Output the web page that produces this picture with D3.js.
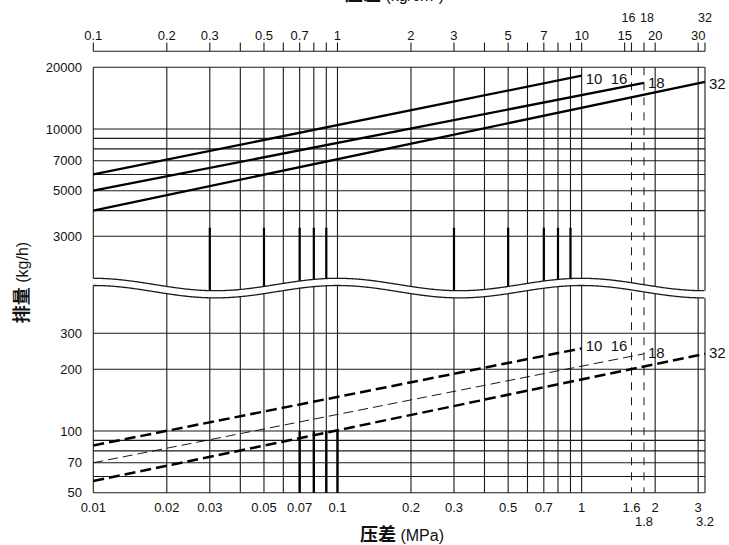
<!DOCTYPE html>
<html>
<head>
<meta charset="utf-8">
<script src="https://cdn.jsdelivr.net/npm/d3@7"></script>
<style>
  body { margin: 0; background: #fff; }
  svg { display: block; font-family: "Liberation Sans", Arial, sans-serif; }
</style>
</head>
<body>
<svg id="chart" width="729" height="545"></svg>
<script>
// ---- data ----
const gridMPa = [0.02, 0.03, 0.04, 0.05, 0.06, 0.07, 0.08, 0.09, 0.1,
  0.2, 0.3, 0.4, 0.5, 0.6, 0.7, 0.8, 0.9, 1, 2, 3];
const dashedMPa = [1.6, 1.8];
const bottomLabels = [0.01, 0.02, 0.03, 0.05, 0.07, 0.1, 0.2, 0.3, 0.5, 0.7, 1, 1.6, 2, 3];
const bottomLabels2 = [1.8, 3.2];

const topTicks = [0.1, 0.2, 0.3, 0.4, 0.5, 0.6, 0.7, 0.8, 0.9, 1,
  2, 3, 4, 5, 6, 7, 8, 9, 10, 15, 16, 18, 20, 30, 32];
const topLabels = [0.1, 0.2, 0.3, 0.5, 0.7, 1, 2, 3, 5, 7, 10, 15, 20, 30];
const topLabels2 = [16, 18, 32];

const upperGrid = [3000, 4000, 5000, 6000, 7000, 8000, 9000, 10000, 20000];
const upperLabels = [3000, 5000, 7000, 10000, 20000];
const lowerGrid = [50, 60, 70, 80, 90, 100, 200, 300];
const lowerLabels = [50, 70, 100, 200, 300];

// lines in the upper (solid) and lower (dashed) part: [MPa, kg/h]
const upper10 = [[0.01, 6000], [1, 18200]];
const upper18 = [[0.01, 5000], [1.8, 16800]];
const upper32 = [[0.01, 4000], [3.2, 17000]];
const lower10 = [[0.01, 85], [1, 253]];
const lower18 = [[0.01, 70], [1.8, 238]];
const lower32 = [[0.01, 57], [3.2, 238]];

// grid lines that print heavier in the original
const heavyUpper = [0.03, 0.05, 0.07, 0.08, 0.09, 0.3, 0.5, 0.7, 0.8, 0.9];
const heavyLower = [0.07, 0.08, 0.09, 0.1];

const svg = d3.select("#chart");

const x = d3.scaleLog().domain([0.01, 3.2]).range([93.3, 705]);
const xTop = d3.scaleLog().domain([0.1, 32]).range([93.3, 705]);
const yUp = d3.scaleLog().domain([3000, 20000]).range([236.2, 67.3]);
const yLow = d3.scaleLog().domain([50, 300]).range([492.7, 333.2]);

const ink = "#1a1a1a";
const x0 = x(0.01), x1 = x(3.2);
const yTop = yUp(20000), yBot = yLow(50);

// axis break (wavy band), one wave per decade
const decade = x(0.1) - x(0.01);
const waveTop = (px) => 284.5 - 6.2 * Math.cos((2 * Math.PI * (px - x0)) / decade);

// vertical grid
svg.append("g")
  .selectAll("line")
  .data([0.01, ...gridMPa, 3.2])
  .join("line")
  .attr("x1", (d) => x(d)).attr("x2", (d) => x(d))
  .attr("y1", yTop).attr("y2", yBot)
  .attr("stroke", ink).attr("stroke-width", 1.1);

svg.append("g")
  .selectAll("line")
  .data(dashedMPa)
  .join("line")
  .attr("x1", (d) => x(d)).attr("x2", (d) => x(d))
  .attr("y1", yTop).attr("y2", yBot)
  .attr("stroke", ink).attr("stroke-width", 1)
  .attr("stroke-dasharray", "8,7");

// horizontal grid
svg.append("g")
  .selectAll("line")
  .data(upperGrid)
  .join("line")
  .attr("x1", x0).attr("x2", x1)
  .attr("y1", (d) => yUp(d)).attr("y2", (d) => yUp(d))
  .attr("stroke", ink).attr("stroke-width", 1.1);

svg.append("g")
  .selectAll("line")
  .data(lowerGrid)
  .join("line")
  .attr("x1", x0).attr("x2", x1)
  .attr("y1", (d) => yLow(d)).attr("y2", (d) => yLow(d))
  .attr("stroke", ink).attr("stroke-width", 1.1);

// heavier segments
svg.append("g")
  .selectAll("line")
  .data(heavyUpper)
  .join("line")
  .attr("x1", (d) => x(d)).attr("x2", (d) => x(d))
  .attr("y1", yUp(3300)).attr("y2", (d) => waveTop(x(d)))
  .attr("stroke", "#000").attr("stroke-width", 2.2);

svg.append("g")
  .selectAll("line")
  .data(heavyLower)
  .join("line")
  .attr("x1", (d) => x(d)).attr("x2", (d) => x(d))
  .attr("y1", yLow(100)).attr("y2", yBot)
  .attr("stroke", "#000").attr("stroke-width", 2.4);

const wave = d3.range(x0 - 1, x1 + 1.5, 1).map((px) => {
  const t = waveTop(px);
  return [px, t, t + 7.2];
});
svg.append("path")
  .datum(wave)
  .attr("d", d3.area().x((d) => d[0]).y0((d) => d[1]).y1((d) => d[2]))
  .attr("fill", "#fff");
const waveIn = wave.filter((d) => d[0] >= x0 && d[0] <= x1);
[1, 2].forEach((k) => {
  svg.append("path")
    .datum(waveIn)
    .attr("d", d3.line().x((d) => d[0]).y((d) => d[k]))
    .attr("fill", "none").attr("stroke", ink).attr("stroke-width", 1.3);
});

// curves
const lineUp = d3.line().x((d) => x(d[0])).y((d) => yUp(d[1]));
const lineLow = d3.line().x((d) => x(d[0])).y((d) => yLow(d[1]));

[upper10, upper18, upper32].forEach((s) => {
  svg.append("path").datum(s).attr("d", lineUp)
    .attr("fill", "none").attr("stroke", "#000").attr("stroke-width", 2.3);
});
[lower10, lower32].forEach((s) => {
  svg.append("path").datum(s).attr("d", lineLow)
    .attr("fill", "none").attr("stroke", "#000").attr("stroke-width", 2.5)
    .attr("stroke-dasharray", "11,5");
});
svg.append("path").datum(lower18).attr("d", lineLow)
  .attr("fill", "none").attr("stroke", "#000").attr("stroke-width", 0.9)
  .attr("stroke-dasharray", "10,5");

// curve end labels
const curveLabels = [
  { text: "10  16", s: upper10, y: yUp, dy: 8 },
  { text: "18", s: upper18, y: yUp, dy: 5 },
  { text: "32", s: upper32, y: yUp, dy: 7 },
  { text: "10  16", s: lower10, y: yLow, dy: 3 },
  { text: "18", s: lower18, y: yLow, dy: 4 },
  { text: "32", s: lower32, y: yLow, dy: 4 }
];
svg.append("g")
  .selectAll("text")
  .data(curveLabels)
  .join("text")
  .attr("x", (d) => x(d.s[d.s.length - 1][0]) + 4)
  .attr("y", (d) => d.y(d.s[d.s.length - 1][1]) + d.dy)
  .style("white-space", "pre")
  .attr("font-size", 15).attr("fill", "#111")
  .text((d) => d.text);

// y tick labels
const yLab = svg.append("g").attr("font-size", 13).attr("fill", "#111")
  .attr("text-anchor", "end");
yLab.selectAll("text.up")
  .data(upperLabels)
  .join("text").attr("class", "up")
  .attr("x", 82).attr("y", (d) => yUp(d)).attr("dy", "0.36em")
  .text((d) => d);
yLab.selectAll("text.low")
  .data(lowerLabels)
  .join("text").attr("class", "low")
  .attr("x", 82).attr("y", (d) => yLow(d)).attr("dy", "0.36em")
  .text((d) => d);

// bottom tick labels
const xLab = svg.append("g").attr("font-size", 13).attr("fill", "#111")
  .attr("text-anchor", "middle");
xLab.selectAll("text.r1")
  .data(bottomLabels)
  .join("text").attr("class", "r1")
  .attr("x", (d) => x(d)).attr("y", 512)
  .text((d) => d);
xLab.selectAll("text.r2")
  .data(bottomLabels2)
  .join("text").attr("class", "r2")
  .attr("x", (d) => x(d)).attr("y", 526)
  .text((d) => d);

// top axis (kg/cm2)
const topG = svg.append("g");
topG.append("line")
  .attr("x1", xTop(0.1)).attr("x2", xTop(32))
  .attr("y1", 51.3).attr("y2", 51.3)
  .attr("stroke", ink).attr("stroke-width", 1.1);
topG.selectAll("line.tk")
  .data(topTicks)
  .join("line").attr("class", "tk")
  .attr("x1", (d) => xTop(d)).attr("x2", (d) => xTop(d))
  .attr("y1", 42.5).attr("y2", 51.3)
  .attr("stroke", ink).attr("stroke-width", 1.1);
topG.selectAll("text.r1")
  .data(topLabels)
  .join("text").attr("class", "r1")
  .attr("x", (d) => xTop(d)).attr("y", 40)
  .attr("text-anchor", "middle").attr("font-size", 13).attr("fill", "#111")
  .text((d) => d);
// 16 and 18 sit close together, nudge them apart a little
topG.selectAll("text.r2")
  .data(topLabels2)
  .join("text").attr("class", "r2")
  .attr("x", (d) => xTop(d)).attr("y", 21.5)
  .attr("dx", (d) => (d === 16 ? -3 : d === 18 ? 3 : 0))
  .attr("text-anchor", "middle").attr("font-size", 12.5).attr("fill", "#111")
  .text((d) => d);

// axis titles
const cjk = '"Noto Sans CJK SC", "Noto Sans CJK JP", sans-serif';
function title(g, zh, rest) {
  g.append("tspan").attr("font-family", cjk).attr("font-weight", "bold")
    .attr("font-size", 18).text(zh);
  g.append("tspan").attr("font-size", 16).text(rest);
}
title(svg.append("text").attr("x", 345).attr("y", 1).attr("fill", "#111"),
  "压差", " (kg/cm²)");
title(svg.append("text").attr("x", 360).attr("y", 541).attr("fill", "#111"),
  "压差", " (MPa)");
title(svg.append("text")
  .attr("transform", "translate(28,282.5) rotate(-90)")
  .attr("text-anchor", "middle").attr("fill", "#111"),
  "排量", " (kg/h)");
</script>
</body>
</html>
